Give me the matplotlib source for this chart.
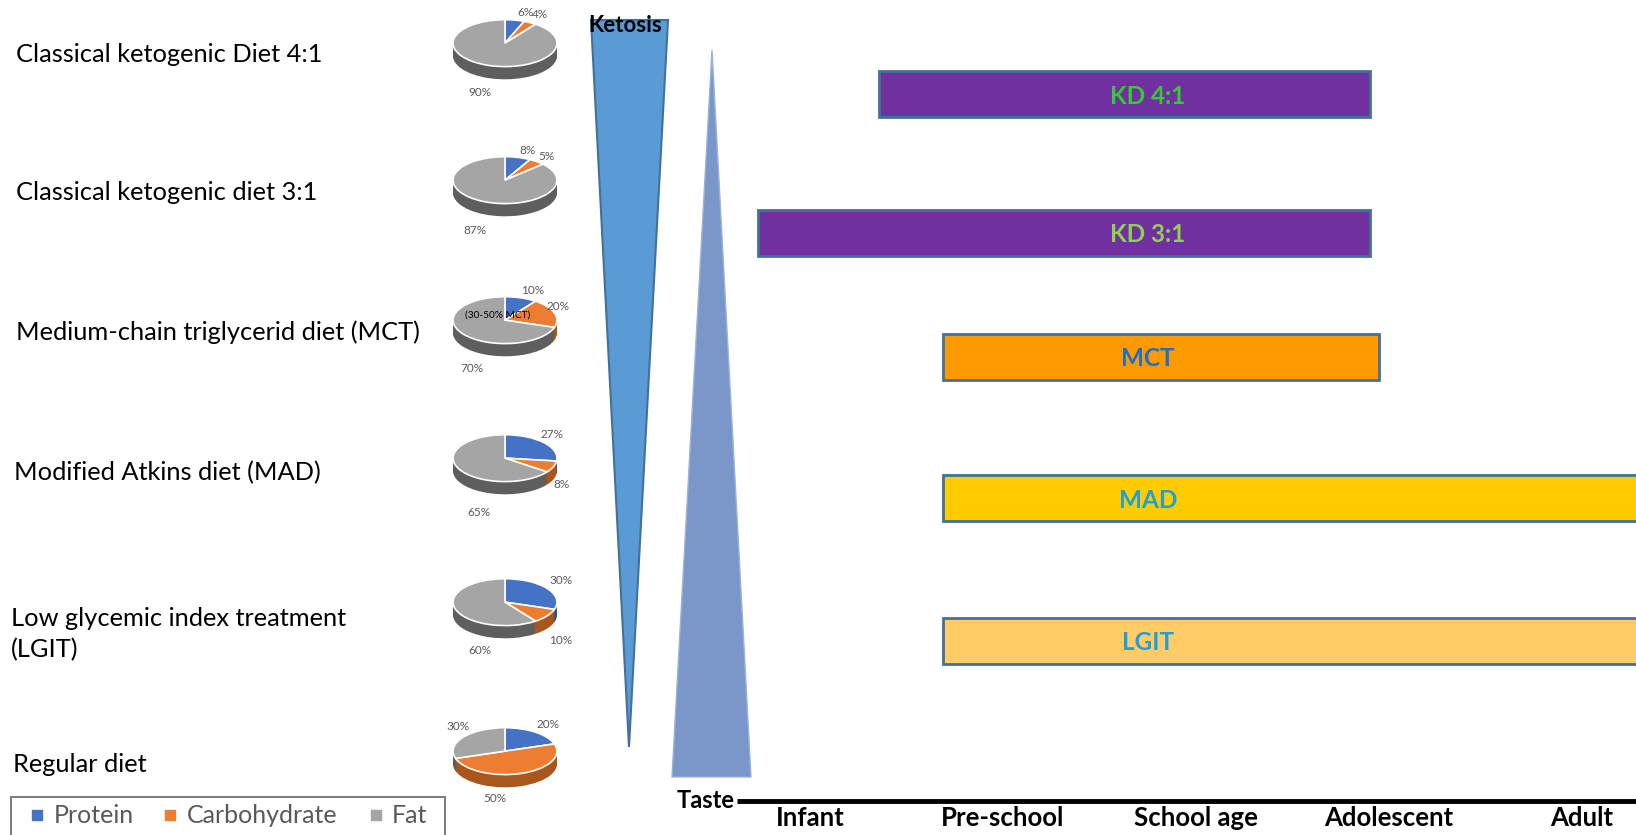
import matplotlib

matplotlib.use("Agg")
import matplotlib.pyplot as plt
import numpy as np
from matplotlib.patches import Polygon, Rectangle

plt.rcParams["font.family"] = ["Lato", "DejaVu Sans"]

# Macronutrient split per diet (share of energy, %)
diets = [
    "Classical ketogenic Diet 4:1",
    "Classical ketogenic diet 3:1",
    "Medium-chain triglycerid diet (MCT)",
    "Modified Atkins diet (MAD)",
    "Low glycemic index treatment\n(LGIT)",
    "Regular diet",
]
protein = [6, 8, 10, 27, 30, 20]
carbohydrate = [4, 5, 20, 8, 10, 50]
fat = [90, 87, 70, 65, 60, 30]
nutrients = ["Protein", "Carbohydrate", "Fat"]

# Age range over which each therapy is used (0 = infant ... 4 = adult)
stages = ["Infant", "Pre-school", "School age", "Adolescent", "Adult"]
therapies = ["KD 4:1", "KD 3:1", "MCT", "MAD", "LGIT"]
age_start = [0.36, -0.27, 0.69, 0.69, 0.69]
age_end = [2.90, 2.90, 2.95, 4.50, 4.50]

W, H = 1636, 835
fig = plt.figure(figsize=(W / 100, H / 100), dpi=100)

# pixel-space canvas for the free-form parts of the figure
base = fig.add_axes([0, 0, 1, 1])
base.set_xlim(0, W)
base.set_ylim(H, 0)
base.axis("off")


def px_box(x0, y0, x1, y1):
    return [x0 / W, 1 - y1 / H, (x1 - x0) / W, (y1 - y0) / H]


# ---- left column: diet names -------------------------------------------
label_y = [55, 193, 332, 473, 634, 764]
label_x = [16, 16, 16, 14, 11, 13]
for name, x, y in zip(diets, label_x, label_y):
    base.text(x, y, name, fontsize=18.3, va="center", ha="left", color="black",
              linespacing=1.45)

# ---- 3D-looking pies ---------------------------------------------------
top_cols = ["#4472C4", "#ED7D31", "#A5A5A5"]
side_cols = ["#2F528F", "#A9561C", "#5E5E5E"]
pie_cy = [43, 180, 320, 458, 602, 751]
pie_cx, rx, ry, depth = 505, 53, 24, 13
# positions (px) of the percentage labels: protein, carbohydrate, fat
pct_pos = [
    [(526, 13), (540, 14), (480, 92)],
    [(527, 151), (546, 156), (475, 230)],
    [(533, 291), (558, 306), (472, 368)],
    [(552, 435), (562, 485), (479, 512)],
    [(561, 580), (561, 641), (480, 651)],
    [(548, 725), (495, 798), (458, 726)],
]

for i, cy in enumerate(pie_cy):
    vals = [protein[i], carbohydrate[i], fat[i]]
    pax = fig.add_axes(px_box(pie_cx - rx, cy - ry, pie_cx + rx, cy + ry + depth))
    d = depth / ry
    # extruded side: stack of darker discs
    for off in np.linspace(d, 0.02, 14):
        pax.pie(vals, colors=side_cols, startangle=90, counterclock=False,
                center=(0, -off), radius=1,
                wedgeprops=dict(linewidth=0))
    pax.pie(vals, colors=top_cols, startangle=90, counterclock=False,
            center=(0, 0), radius=1,
            wedgeprops=dict(edgecolor="white", linewidth=1.2))
    pax.set_aspect("auto")
    pax.set_xlim(-1.02, 1.02)
    pax.set_ylim(-1 - d - 0.03, 1.03)
    pax.axis("off")

# ---- ketosis / taste wedges -------------------------------------------
base.add_patch(Polygon([(591, 20), (668, 20), (629, 747)], closed=True,
                       facecolor="#5B9BD5", edgecolor="#41719C", linewidth=1.5))
base.add_patch(Polygon([(712, 50), (672, 777), (751, 777)], closed=True,
                       facecolor="#7B97C9", edgecolor="#9DB2DA", linewidth=1.0))

# ---- age timeline ------------------------------------------------------
x_left, x0_px, step_px = 737, 810, 193
tl = fig.add_axes(px_box(x_left, 0, W, H))
tl.set_xlim((x_left - x0_px) / step_px, (W - x0_px) / step_px)
tl.set_ylim(H, 0)
tl.patch.set_visible(False)
for s in tl.spines.values():
    s.set_visible(False)
tl.tick_params(left=False, labelleft=False, bottom=False, labelbottom=False)

bar_y = [94, 233, 357, 498, 641]
bar_cols = ["#7030A0", "#7030A0", "#FF9900", "#FFCC00", "#FFCC66"]
text_cols = ["#33CC33", "#92D050", "#1F6FC5", "#1FA0D6", "#1FA0D6"]
widths = np.array(age_end) - np.array(age_start)
tl.barh(bar_y, widths, left=age_start, height=46, color=bar_cols,
        edgecolor="#41719C", linewidth=2)
label_stage = (1148 - x0_px) / step_px
for name, y, c in zip(therapies, bar_y, text_cols):
    tl.text(label_stage, y + 2, name, fontsize=17.5, fontweight="bold",
            color=c, ha="center", va="center")

tl.plot([tl.get_xlim()[0], tl.get_xlim()[1]], [801, 801], color="black",
        linewidth=3.5, solid_capstyle="butt", clip_on=False)
for k, st in enumerate(stages):
    tl.text(k, 818, st, fontsize=18.5, fontweight="bold",
            ha="center", va="center")

# ---- text drawn above every panel -------------------------------------
over = fig.add_axes([0, 0, 1, 1])
over.set_xlim(0, W)
over.set_ylim(H, 0)
over.axis("off")
for i in range(len(pie_cy)):
    vals = [protein[i], carbohydrate[i], fat[i]]
    for v, (tx, ty) in zip(vals, pct_pos[i]):
        over.text(tx, ty, f"{v}%", fontsize=8.5, color="#595959",
                  ha="center", va="center")
over.text(498, 315, "(30-50% MCT)", fontsize=7.3, color="black",
          ha="center", va="center")
over.text(625, 25, "Ketosis", fontsize=16, fontweight="bold",
          ha="center", va="center")
over.text(735, 801, "Taste", fontsize=17, fontweight="bold",
          ha="right", va="center")

# ---- macronutrient key (box runs off the bottom edge) -----------------
over.add_patch(Rectangle((11, 797), 434, 60, facecolor="white",
                         edgecolor="#7F7F7F", linewidth=1.5))
key_sq_x = [37, 170, 376]
key_tx_x = [54, 187, 392]
over.scatter(key_sq_x, [815] * 3, marker="s", s=42, c=top_cols, zorder=5)
for name, tx in zip(nutrients, key_tx_x):
    over.text(tx, 823, name, fontsize=18, color="#595959",
              ha="left", va="baseline")

fig.savefig("out.png", dpi=100)
